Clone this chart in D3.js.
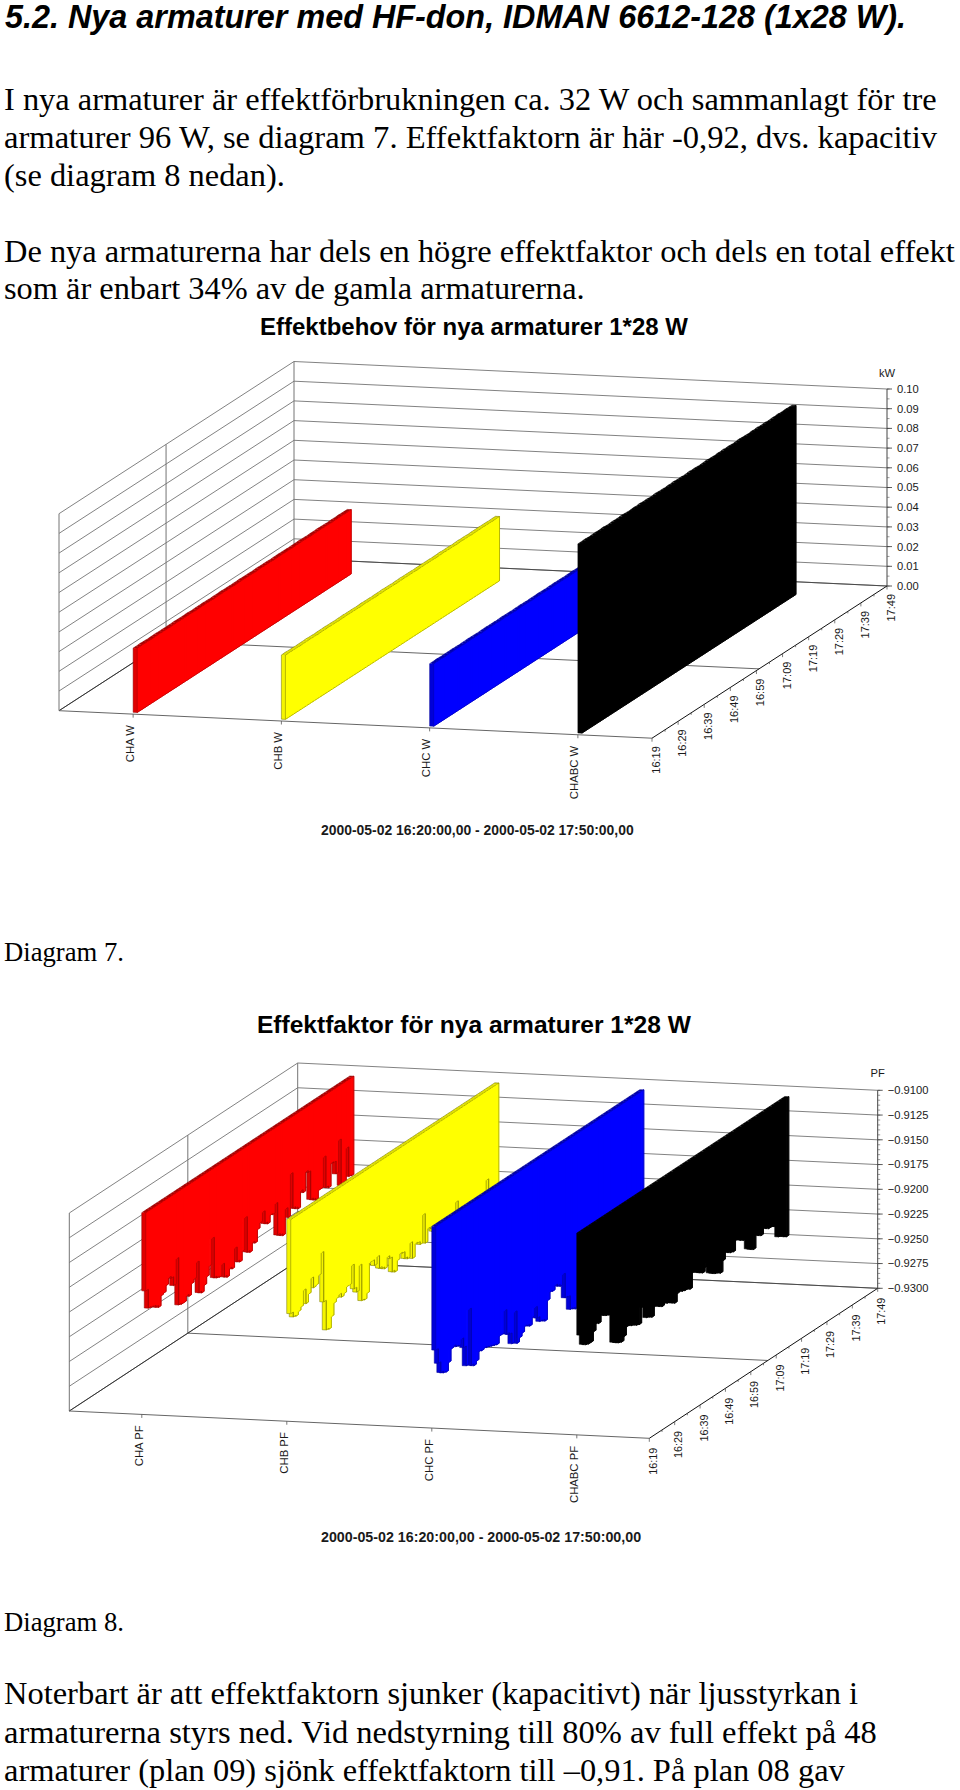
<!DOCTYPE html>
<html><head><meta charset="utf-8">
<style>html,body{margin:0;padding:0;background:#fff}svg{display:block}</style>
<script src="https://cdn.jsdelivr.net/npm/d3@7/dist/d3.min.js"></script>
</head><body><div id="c"></div>
<script>
// ---------- DATA ----------
const powerCategories = ["CHA W","CHB W","CHC W","CHABC W"];
const pfCategories = ["CHA PF","CHB PF","CHC PF","CHABC PF"];
const timeLabels = ["16:19","16:29","16:39","16:49","16:59","17:09","17:19","17:29","17:39","17:49"];
const powerTicks = [0,0.01,0.02,0.03,0.04,0.05,0.06,0.07,0.08,0.09,0.10];
const pfTicks = [-0.93,-0.9275,-0.925,-0.9225,-0.92,-0.9175,-0.915,-0.9125,-0.91];

const powerCHA = [.0326,.0326,.0327,.0326,.0326,.0325,.0326,.0326,.0327,.0326,.0326,.0326,.0325,.0326,.0326,.0327,.0326,.0326,.0326,.0326,.0327,.0326,.0325,.0326,.0326,.0326,.0327,.0326,.0326,.0325,.0326,.0326,.0326,.0327,.0326,.0326,.0326,.0325,.0326,.0326,.0327,.0326,.0326,.0326,.0326,.0325,.0326,.0327,.0326,.0326,.0326,.0326,.0325,.0326,.0326,.0327,.0326,.0326,.0326,.0325,.0326,.0326,.0326,.0327,.0326,.0326,.0325,.0326,.0326,.0326,.0327,.0326,.0326,.0326,.0325,.0326,.0326,.0326,.0327,.0326,.0326,.0326];
const powerCHB = [.0326,.0327,.0326,.0326,.0326,.0325,.0326,.0326,.0326,.0327,.0326,.0326,.0325,.0326,.0326,.0326,.0327,.0326,.0326,.0326,.0325,.0326,.0326,.0327,.0326,.0326,.0326,.0326,.0325,.0326,.0327,.0326,.0326,.0326,.0325,.0326,.0326,.0326,.0327,.0326,.0326,.0326,.0325,.0326,.0326,.0327,.0326,.0326,.0326,.0326,.0325,.0326,.0326,.0327,.0326,.0326,.0326,.0325,.0326,.0326,.0327,.0326,.0326,.0326,.0326,.0325,.0326,.0327,.0326,.0326,.0326,.0325,.0326,.0326,.0326,.0327,.0326,.0326,.0326,.0325,.0326,.0326];
const powerCHC = [.0317,.0317,.0318,.0317,.0316,.0317,.0317,.0317,.0318,.0317,.0317,.0316,.0317,.0317,.0318,.0317,.0317,.0317,.0316,.0317,.0317,.0318,.0317,.0317,.0317,.0316,.0317,.0318,.0317,.0317,.0317,.0316,.0317,.0317,.0318,.0317,.0317,.0316,.0317,.0317,.0317,.0318,.0317,.0317,.0316,.0317,.0317,.0318,.0317,.0317,.0317,.0316,.0317,.0317,.0318,.0317,.0317,.0317,.0316,.0317,.0318,.0317,.0317,.0317,.0316,.0317,.0317,.0318,.0317,.0317,.0316,.0317,.0317,.0318,.0317,.0317,.0317,.0316,.0317,.0317,.0318,.0317];
const powerCHABC = [.0960,.0960,.0961,.0960,.0959,.0960,.0961,.0960,.0960,.0962,.0960,.0959,.0960,.0961,.0960,.0960,.0962,.0961,.0960,.0959,.0960,.0961,.0960,.0962,.0960,.0960,.0961,.0959,.0960,.0962,.0961,.0960,.0960,.0959,.0961,.0960,.0962,.0960,.0960,.0961,.0959,.0960,.0962,.0960,.0961,.0960,.0959,.0960,.0961,.0962,.0960,.0960,.0959,.0961,.0960,.0962,.0960,.0961,.0960,.0959,.0960,.0962,.0961,.0960,.0960,.0959,.0961,.0960,.0962,.0960,.0960,.0961,.0959,.0960,.0961,.0960,.0962,.0960,.0960,.0961,.0960,.0960];

const pfCHA = [-.9177,-.9196,-.9197,-.9198,-.9200,-.9202,-.9192,-.9191,-.9185,-.9179,-.9181,-.9190,-.9165,-.9213,-.9214,-.9214,-.9209,-.9211,-.9200,-.9197,-.9182,-.9214,-.9216,-.9210,-.9203,-.9194,-.9168,-.9209,-.9211,-.9212,-.9201,-.9215,-.9217,-.9210,-.9212,-.9193,-.9208,-.9210,-.9201,-.9169,-.9205,-.9207,-.9199,-.9201,-.9189,-.9184,-.9175,-.9188,-.9190,-.9183,-.9184,-.9175,-.9208,-.9210,-.9212,-.9187,-.9197,-.9155,-.9191,-.9193,-.9195,-.9179,-.9182,-.9163,-.9165,-.9194,-.9196,-.9198,-.9190,-.9190,-.9160,-.9192,-.9194,-.9171,-.9172,-.9185,-.9153,-.9200,-.9202,-.9166,-.9196,-.9197];
const pfCHB = [-.9193,-.9198,-.9199,-.9196,-.9193,-.9178,-.9193,-.9185,-.9171,-.9182,-.9181,-.9173,-.9152,-.9203,-.9233,-.9234,-.9223,-.9211,-.9208,-.9206,-.9210,-.9208,-.9203,-.9203,-.9185,-.9210,-.9215,-.9190,-.9227,-.9228,-.9223,-.9194,-.9194,-.9200,-.9193,-.9206,-.9208,-.9210,-.9200,-.9203,-.9218,-.9220,-.9210,-.9205,-.9206,-.9213,-.9215,-.9201,-.9218,-.9205,-.9206,-.9209,-.9181,-.9211,-.9198,-.9200,-.9204,-.9206,-.9203,-.9208,-.9205,-.9207,-.9204,-.9209,-.9206,-.9190,-.9207,-.9205,-.9208,-.9204,-.9206,-.9203,-.9207,-.9205,-.9204,-.9206,-.9203,-.9188,-.9205,-.9204,-.9206,-.9205];
const pfCHC = [-.9223,-.9238,-.9249,-.9251,-.9252,-.9244,-.9232,-.9231,-.9233,-.9234,-.9229,-.9239,-.9259,-.9204,-.9262,-.9264,-.9261,-.9253,-.9254,-.9253,-.9254,-.9255,-.9256,-.9257,-.9258,-.9251,-.9251,-.9229,-.9254,-.9256,-.9267,-.9237,-.9270,-.9266,-.9263,-.9258,-.9259,-.9261,-.9254,-.9246,-.9258,-.9263,-.9264,-.9266,-.9247,-.9240,-.9241,-.9237,-.9239,-.9241,-.9231,-.9256,-.9257,-.9271,-.9272,-.9274,-.9262,-.9258,-.9255,-.9259,-.9253,-.9256,-.9250,-.9254,-.9248,-.9252,-.9249,-.9246,-.9250,-.9245,-.9247,-.9243,-.9246,-.9241,-.9244,-.9240,-.9243,-.9238,-.9241,-.9237,-.9240,-.9238];
const pfCHABC = [-.9201,-.9212,-.9214,-.9215,-.9215,-.9206,-.9199,-.9201,-.9194,-.9196,-.9198,-.9199,-.9201,-.9230,-.9232,-.9234,-.9235,-.9231,-.9223,-.9223,-.9225,-.9226,-.9228,-.9229,-.9213,-.9215,-.9227,-.9228,-.9230,-.9221,-.9222,-.9224,-.9226,-.9224,-.9226,-.9227,-.9229,-.9231,-.9223,-.9222,-.9224,-.9225,-.9225,-.9227,-.9212,-.9213,-.9215,-.9217,-.9219,-.9215,-.9212,-.9224,-.9226,-.9228,-.9229,-.9231,-.9220,-.9213,-.9215,-.9217,-.9218,-.9208,-.9209,-.9211,-.9213,-.9214,-.9225,-.9227,-.9229,-.9216,-.9218,-.9220,-.9214,-.9216,-.9218,-.9218,-.9219,-.9221,-.9233,-.9234,-.9236,-.9238];

const fillColors  = ["#ff0000","#ffff00","#0000ff","#000000"];
const frontColors = ["#e00000","#f4f400","#0000d8","#000000"];
const topColors   = ["#a80000","#dcdc00","#0000a8","#000000"];
const lineColors  = ["#8a0000","#6e6e00","#000090","#000000"];

// ---------- TEXT ----------
const proseLines = [
 ["5.2. Nya armaturer med HF-don, IDMAN 6612-128 (1x28 W).",5,28,901,"h"],
 ["I nya armaturer är effektförbrukningen ca. 32 W och sammanlagt för tre",4,110,933,"b"],
 ["armaturer 96 W, se diagram 7. Effektfaktorn är här -0,92, dvs. kapacitiv",4,148,933,"b"],
 ["(se diagram 8 nedan).",4,186,281,"b"],
 ["De nya armaturerna har dels en högre effektfaktor och dels en total effekt",4,262,951,"b"],
 ["som är enbart 34% av de gamla armaturerna.",4,299,581,"b"],
 ["Diagram 7.",4,961,120,"b"],
 ["Diagram 8.",4,1631,120,"b"],
 ["Noterbart är att effektfaktorn sjunker (kapacitivt) när ljusstyrkan i",4,1704,854,"b"],
 ["armaturerna styrs ned. Vid nedstyrning till 80% av full effekt på 48",4,1743,873,"b"],
 ["armaturer (plan 09) sjönk effektfaktorn till –0,91. På plan 08 gav",4,1781,841,"b"]
];

const svg = d3.select("#c").append("svg").attr("width",960).attr("height",1790);
svg.append("rect").attr("width",960).attr("height",1790).attr("fill","#fff");

function fit(sel, width){
  const len = sel.node().getComputedTextLength();
  const fs = parseFloat(sel.attr("font-size"));
  sel.attr("font-size", (fs*width/len).toFixed(2));
}
proseLines.forEach(([t,x,y,w,k])=>{
  const s = svg.append("text").text(t).attr("x",x).attr("y",y).attr("font-size",28).attr("fill","#000")
    .attr("font-family", k==="h" ? "'Liberation Sans',Arial,sans-serif" : "'Liberation Serif','Times New Roman',serif");
  if(k==="h") s.attr("font-weight","bold").attr("font-style","italic");
  fit(s,w);
});

// ---------- CHART ----------
function chart(o){
  const g = svg.append("g");
  const band = d3.scaleBand().domain(o.categories).range([0,1]);
  const time = d3.scaleLinear().domain([0,90]).range([0,1]);
  const val = d3.scaleLinear().domain(o.valueDomain).range([0,o.height]);
  const P = (c,m,v)=>[ o.x0 + c*o.cx + time(m)*o.tx, o.y0 + c*o.cy + time(m)*o.ty - val(v) ];
  const pts = a=>a.map(p=>p[0].toFixed(2)+","+p[1].toFixed(2)).join(" ");
  const seg = (par,a,b,col,w)=>par.append("line").attr("x1",a[0]).attr("y1",a[1]).attr("x2",b[0]).attr("y2",b[1]).attr("stroke",col).attr("stroke-width",w);
  const [vMin,vMax] = o.valueDomain;
  const grid="#747474";

  // walls
  const wall = g.append("g");
  o.gridValues.forEach(v=>{
    const a=P(0,0,v), b=P(0,90,v), c=P(1,90,v);
    wall.append("polyline").attr("points",pts([a,b,c])).attr("fill","none").attr("stroke",grid).attr("stroke-width",0.9);
  });
  seg(wall,P(0,0,vMin),P(0,0,vMax),grid,1);
  seg(wall,P(0,90,vMin),P(0,90,vMax),grid,1);
  seg(wall,P(0,o.midMinute,vMin),P(0,o.midMinute,vMax),grid,1);
  // floor
  seg(wall,P(0,o.midMinute,vMin),P(1,o.midMinute,vMin),"#555",0.9);
  seg(wall,P(0,90,vMin),P(1,90,vMin),"#444",0.9);
  seg(wall,P(0,0,vMin),P(0,90,vMin),"#333",1);
  seg(wall,P(0,0,vMin),P(1,0,vMin),"#666",1);
  seg(wall,P(1,0,vMin),P(1,90,vMin),"#111",1);

  // right value axis
  const ax = g.append("g");
  seg(ax,P(1,90,vMin),P(1,90,vMax),"#444",1);
  d3.range(o.minorCount+1).forEach(i=>{
    const v = vMin+(vMax-vMin)*i/o.minorCount, p=P(1,90,v);
    seg(ax,p,[p[0]+2.5,p[1]],"#555",0.6);
  });
  o.ticks.forEach(v=>{
    const p=P(1,90,v);
    seg(ax,p,[p[0]+5,p[1]],"#333",0.8);
    ax.append("text").text(o.tickFormat(v)).attr("x",p[0]+o.tickDx).attr("y",p[1]+3.9)
      .attr("font-family","'Liberation Sans',Arial,sans-serif").attr("font-size",o.valueFont).attr("fill","#1a1a1a");
  });
  const top=P(1,90,vMax);
  ax.append("text").text(o.unit).attr("x",top[0]).attr("y",o.unitY).attr("text-anchor","middle")
    .attr("font-family","'Liberation Sans',Arial,sans-serif").attr("font-size",o.valueFont).attr("fill","#1a1a1a");

  const vtext = (x,y,t,fs)=>g.append("text").text(t).attr("transform",`translate(${x.toFixed(1)},${y.toFixed(1)}) rotate(-90)`)
    .attr("text-anchor","end").attr("font-family","'Liberation Sans',Arial,sans-serif").attr("font-size",fs).attr("fill","#1a1a1a");

  // category axis
  o.categories.forEach(cat=>{
    const c=band(cat)+band.bandwidth()/2, p=P(c,0,vMin);
    seg(g,p,[p[0],p[1]+3.5],"#555",0.8);
    vtext(p[0]+o.catDx,p[1]+o.catDy,cat,o.labelFont);
  });
  // time axis (ticks every 5 minutes, labels every 10)
  d3.range(0,91,5).forEach(m=>{
    const p=P(1,m,vMin);
    seg(g,p,[p[0],p[1]+(m%10===0?3.5:2)],"#444",0.7);
  });
  timeLabels.forEach((t,i)=>{
    const p=P(1,i*10,vMin);
    vtext(p[0]+o.timeDx,p[1]+o.timeDy,t,o.timeFont);
  });

  // bars: series left→right, samples back→front
  o.series.forEach((data,si)=>{
    const c0 = band(o.categories[si])+band.bandwidth()/2+o.barShift, c1 = c0+o.barWidth;
    const rows = data.map((v,k)=>({k, vt:o.hanging?o.hangTop:v, vb:o.hanging?v:vMin}));
    const line = lineColors[si];
    const sg = g.append("g").selectAll("g").data(rows.slice().reverse()).join("g");
    sg.each(function(d){
      const el=d3.select(this), m0=d.k+1, m1=d.k+2;
      el.append("polygon").attr("points",pts([P(c0,m0,d.vt),P(c1,m0,d.vt),P(c1,m1,d.vt),P(c0,m1,d.vt)]))
        .attr("fill",topColors[si]);
      el.append("polygon").attr("points",pts([P(c0,m0,d.vt),P(c1,m0,d.vt),P(c1,m0,d.vb),P(c0,m0,d.vb)]))
        .attr("fill",frontColors[si]);
      seg(el,P(c0,m0,d.vt),P(c0,m0,d.vb),line,0.5);
      seg(el,P(c0,m0,d.vb),P(c1,m0,d.vb),line,0.5);
      el.append("polygon").attr("points",pts([P(c1,m0,d.vt),P(c1,m1,d.vt),P(c1,m1,d.vb),P(c1,m0,d.vb)]))
        .attr("fill",fillColors[si]).attr("stroke",fillColors[si]).attr("stroke-width",0.9);
      // outline: free edge plus steps against the neighbours
      seg(el,P(c1,m0,d.vb),P(c1,m1,d.vb),line,0.5);
      seg(el,P(c1,m0,d.vt),P(c1,m1,d.vt),line,0.5);
      const prev=rows[d.k-1], next=rows[d.k+1];
      if(prev){ seg(el,P(c1,m0,o.hanging?d.vb:d.vt),P(c1,m0,o.hanging?prev.vb:prev.vt),line,0.5); }
      else { seg(el,P(c1,m0,d.vt),P(c1,m0,d.vb),line,0.5); }
      if(next){ seg(el,P(c1,m1,o.hanging?d.vb:d.vt),P(c1,m1,o.hanging?next.vb:next.vt),line,0.5); }
      else { seg(el,P(c1,m1,d.vt),P(c1,m1,d.vb),line,0.5); seg(el,P(c0,m1,d.vt),P(c1,m1,d.vt),line,0.5); }
      seg(el,P(c0,m0,d.vt),P(c0,m1,d.vt),line,0.5);
    });
  });

  // titles
  const tl = g.append("text").text(o.title).attr("x",o.titleX).attr("y",o.titleY).attr("font-size",21).attr("font-weight","bold")
    .attr("font-family","'Liberation Sans',Arial,sans-serif").attr("fill","#000");
  fit(tl,o.titleW);
  const ft = g.append("text").text(o.range).attr("x",o.rangeX).attr("y",o.rangeY).attr("font-size",13).attr("font-weight","bold")
    .attr("font-family","'Liberation Sans',Arial,sans-serif").attr("fill","#1a1a1a");
  fit(ft,o.rangeW);
}

chart({
  categories:powerCategories, series:[powerCHA,powerCHB,powerCHC,powerCHABC],
  valueDomain:[0,0.10], ticks:powerTicks, gridValues:powerTicks, minorCount:20, tickFormat:d3.format(".2f"),
  x0:59,y0:710.7,cx:593,cy:27.5,tx:235,ty:-152.2,height:197,
  midMinute:41, hanging:false, barWidth:0.0068, barShift:-0.0044,
  unit:"kW", unitY:376.5, tickDx:10, valueFont:11.2, labelFont:11.3, timeFont:11,
  catDx:0.5,catDy:11,timeDx:8,timeDy:8,
  title:"Effektbehov för nya armaturer 1*28 W",titleX:260,titleY:334.5,titleW:428,
  range:"2000-05-02 16:20:00,00 - 2000-05-02 17:50:00,00",rangeX:321,rangeY:835,rangeW:313
});
chart({
  categories:pfCategories, series:[pfCHA,pfCHB,pfCHC,pfCHABC],
  valueDomain:[-0.93,-0.91], ticks:pfTicks, gridValues:pfTicks, minorCount:40, tickFormat:d3.format(".4f"),
  x0:69.3,y0:1411,cx:580,cy:27.3,tx:228.4,ty:-150,height:198,
  midMinute:46.7, hanging:true, hangTop:-0.9098, barWidth:0.0069, barShift:-0.0045,
  unit:"PF", unitY:1077, tickDx:10, valueFont:11.2, labelFont:11.3, timeFont:10.8,
  catDx:1,catDy:11,timeDx:7.5,timeDy:9.4,
  title:"Effektfaktor för nya armaturer 1*28 W",titleX:257,titleY:1032.5,titleW:434,
  range:"2000-05-02 16:20:00,00 - 2000-05-02 17:50:00,00",rangeX:321,rangeY:1541.5,rangeW:320
});
</script></body></html>
